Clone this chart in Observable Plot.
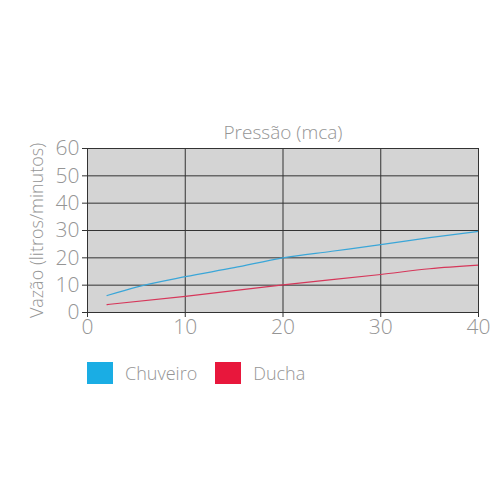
<!DOCTYPE html>
<html>
<head>
<meta charset="utf-8">
<script src="https://cdn.jsdelivr.net/npm/d3@7"></script>
<script src="https://cdn.jsdelivr.net/npm/@observablehq/plot@0.6"></script>
<style>
  body { margin: 0; background: #fff; font-family: "Open Sans", sans-serif; }
  #legend { display: flex; align-items: center; margin-top: 21px; padding-left: 87px; color: #959595; font-size: 18px; font-weight: 300; }
  .sw { width: 26px; height: 22px; display: inline-block; margin-right: 12px; }
  .item { display: flex; align-items: center; margin-right: 18px; }
</style>
</head>
<body>
<div id="chart"></div>
<div id="legend"></div>
<script>
const xTitle = "Pressão (mca)";
const yTitle = "Vazão (litros/minutos)";
const xTicks = [0, 10, 20, 30, 40];
const yTicks = [0, 10, 20, 30, 40, 50, 60];
const seriesNames = ["Chuveiro", "Ducha"];
const seriesColors = ["#1aade4", "#e8173c"];
const lineColors = ["#3aa6d8", "#d6375a"];
const chuveiroX = [2, 5, 10, 15, 20, 25, 30, 35, 40];
const chuveiroY = [6.2, 9.3, 13.1, 16.4, 20.0, 22.4, 24.8, 27.4, 29.7];
const duchaX = [2, 10, 20, 30, 35, 40];
const duchaY = [2.9, 5.9, 10.1, 13.9, 16.0, 17.3];

const data = [
  ...chuveiroX.map((x, i) => ({x, y: chuveiroY[i], s: seriesNames[0]})),
  ...duchaX.map((x, i) => ({x, y: duchaY[i], s: seriesNames[1]}))
];

const chart = Plot.plot({
  width: 500,
  height: 340,
  marginTop: 148,
  marginBottom: 28,
  marginLeft: 87,
  marginRight: 22,
  style: { fontFamily: "Open Sans, sans-serif", color: "#959595", background: "#fff", fontWeight: 300 },
  x: { domain: [0, 40] },
  y: { domain: [0, 60] },
  color: { domain: seriesNames, range: lineColors },
  marks: [
    Plot.frame({ fill: "#d4d4d4" }),
    Plot.gridX(xTicks, { stroke: "#333", strokeOpacity: 1 }),
    Plot.gridY(yTicks, { stroke: "#333", strokeOpacity: 1 }),
    Plot.axisX(xTicks, { tickSize: 5, tickPadding: 2, fontSize: 21, stroke: "#333", fill: "#959595", label: null }),
    Plot.axisY(yTicks, { tickSize: 5, tickPadding: 3, fontSize: 21, stroke: "#333", fill: "#959595", label: null }),
    Plot.line(data, { x: "x", y: "y", z: "s", stroke: "s", strokeWidth: 1.2, curve: "monotone-x" }),
    Plot.frame({ stroke: "#333" }),
    Plot.text([xTitle], { frameAnchor: "top", dy: -23, fontSize: 19, fill: "#959595" }),
    Plot.text([yTitle], { frameAnchor: "left", textAnchor: "middle", rotate: -90, dx: -50, fontSize: 18, fill: "#959595" })
  ]
});
document.getElementById("chart").append(chart);

const legend = document.getElementById("legend");
seriesNames.forEach((n, i) => {
  const it = document.createElement("div");
  it.className = "item";
  const sw = document.createElement("span");
  sw.className = "sw";
  sw.style.background = seriesColors[i];
  it.append(sw, document.createTextNode(n));
  legend.append(it);
});
</script>
</body>
</html>
